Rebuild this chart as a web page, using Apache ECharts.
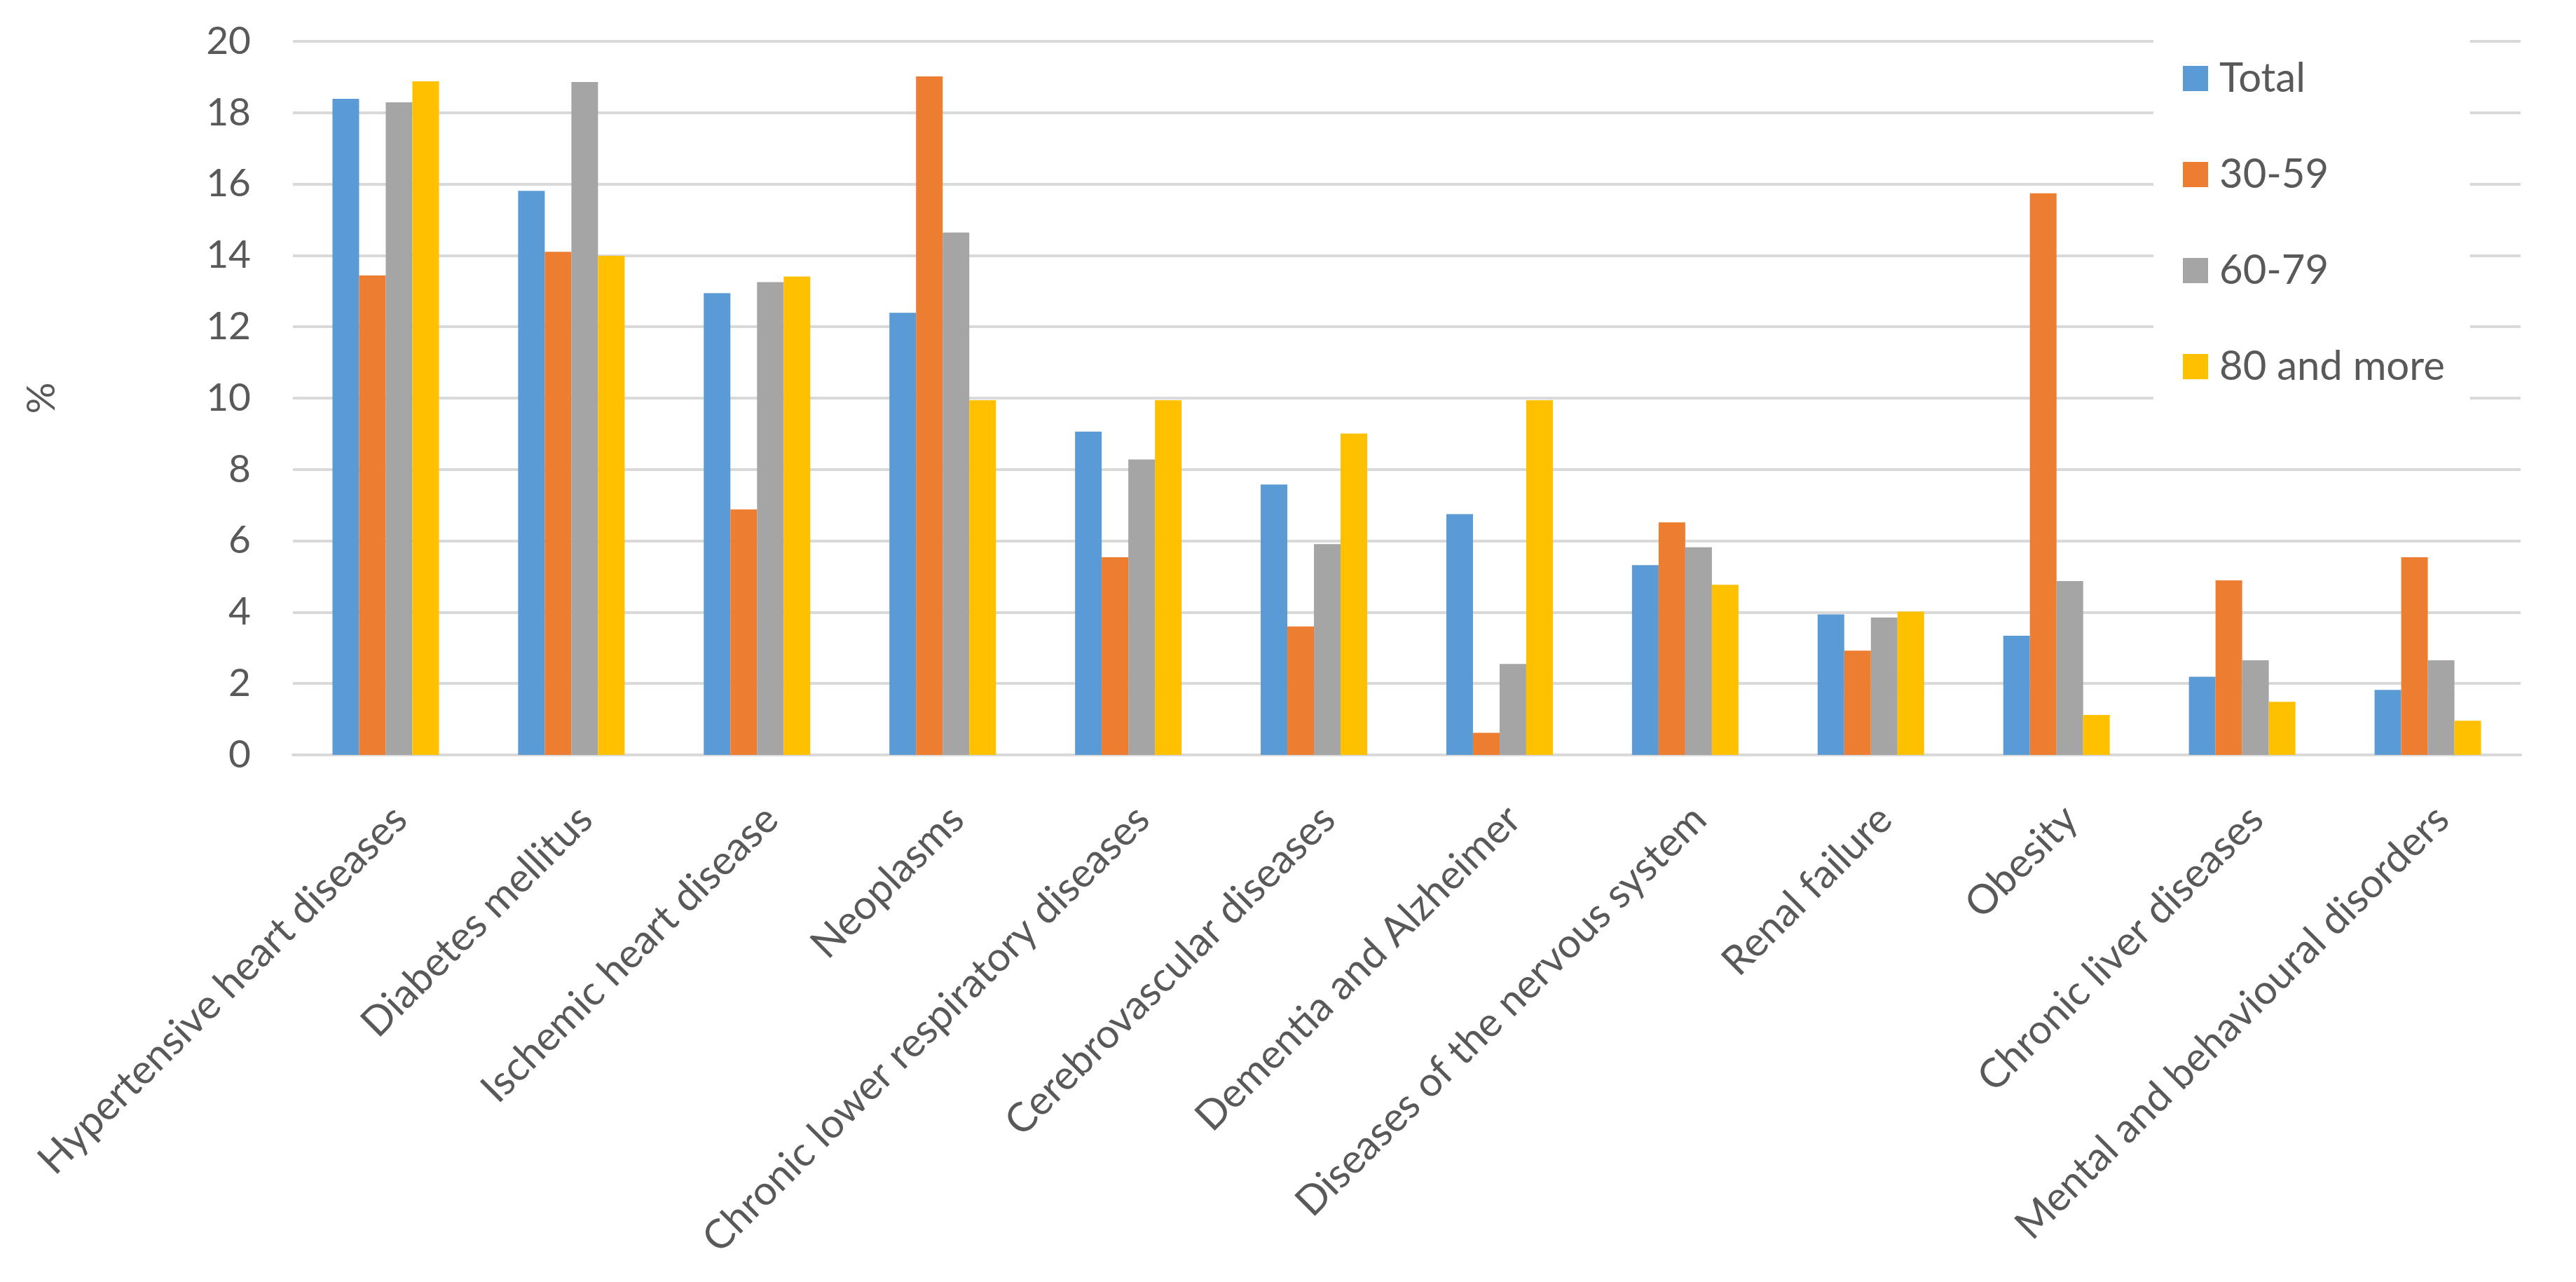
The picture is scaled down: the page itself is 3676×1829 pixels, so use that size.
<!DOCTYPE html>
<html>
<head>
<meta charset="utf-8">
<script src="https://cdn.jsdelivr.net/npm/echarts@6/dist/echarts.min.js"></script>
<style>
html,body{margin:0;padding:0;background:#fff;}
#c{width:3676px;height:1829px;}
</style>
</head>
<body>
<div id="c"></div>
<script>
var categories = ["Hypertensive heart diseases","Diabetes mellitus","Ischemic heart disease","Neoplasms","Chronic lower respiratory diseases","Cerebrovascular diseases","Dementia and Alzheimer","Diseases of the nervous system","Renal failure","Obesity","Chronic liver diseases","Mental and behavioural disorders"];
var seriesNames = ["Total","30-59","60-79","80 and more"];
var total   = [18.39,15.81,12.94,12.39,9.06,7.58,6.75,5.32,3.94,3.34,2.19,1.82];
var age3059 = [13.44,14.10,6.88,19.02,5.54,3.60,0.62,6.52,2.92,15.74,4.89,5.54];
var age6079 = [18.29,18.86,13.25,14.64,8.28,5.91,2.55,5.82,3.85,4.87,2.65,2.65];
var age80   = [18.88,13.99,13.41,9.94,9.94,9.01,9.94,4.77,4.02,1.12,1.49,0.96];
var colors = ["#5B9BD5","#ED7D31","#A5A5A5","#FFC000"];
var FONT = "Lato";
var chart = echarts.init(document.getElementById('c'));
var data = [total, age3059, age6079, age80];
chart.setOption({
  animation:false,
  color: colors,
  grid:{left:418,right:79,top:59,bottom:752},
  legend:{
    orient:'vertical', left:3073, top:23,
    backgroundColor:'#fff',
    padding:[60,36,60,42],
    itemWidth:36, itemHeight:36, itemGap:79,
    icon:'rect',
    textStyle:{fontFamily:FONT,fontSize:58,color:'#595959',padding:[0,0,0,11]},
    data: seriesNames
  },
  xAxis:{
    type:'category', data:categories,
    axisLine:{show:true,lineStyle:{color:'#d9d9d9',width:4}},
    axisTick:{show:false},
    axisLabel:{interval:0,rotate:45,margin:62,verticalAlign:'top',fontFamily:FONT,fontSize:58,color:'#595959'}
  },
  yAxis:{
    type:'value', min:0, max:20, interval:2,
    name:'%', nameLocation:'middle', nameRotate:90, nameGap:330,
    nameTextStyle:{fontFamily:FONT,fontSize:56,color:'#595959'},
    axisLine:{show:false}, axisTick:{show:false},
    axisLabel:{margin:60,fontFamily:FONT,fontSize:55,color:'#595959'},
    splitLine:{lineStyle:{color:'#d9d9d9',width:4}}
  },
  series: seriesNames.map(function(n,i){
    return {name:n,type:'bar',data:data[i],barWidth:38,barGap:'0%'};
  })
});
</script>
</body>
</html>
